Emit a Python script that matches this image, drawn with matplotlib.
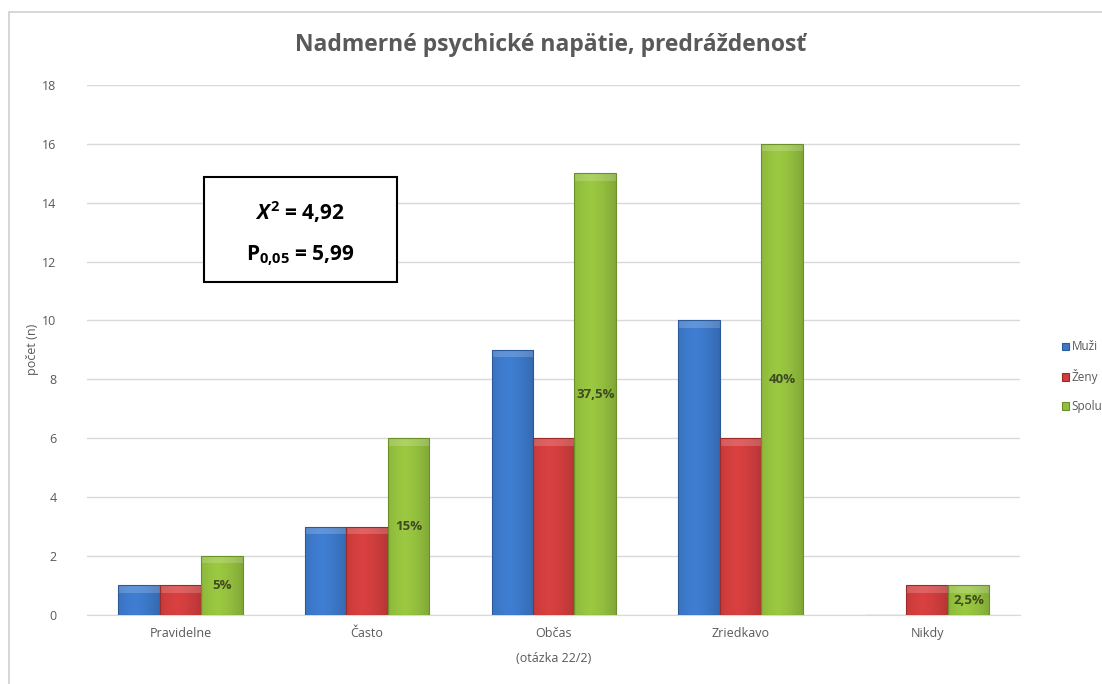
import numpy as np
import matplotlib
matplotlib.use("Agg")
import matplotlib.pyplot as plt
from matplotlib.patches import Rectangle

plt.rcParams['font.family'] = ['Open Sans', 'DejaVu Sans']
plt.rcParams['mathtext.fontset'] = 'custom'
plt.rcParams['mathtext.rm'] = 'Open Sans'
plt.rcParams['mathtext.it'] = 'Open Sans:italic:bold'
plt.rcParams['mathtext.bf'] = 'Open Sans:bold'

# data
categories = ["Pravidelne", "Často", "Občas", "Zriedkavo", "Nikdy"]
muzi = [1, 3, 9, 10, 0]
zeny = [1, 3, 6, 6, 1]
spolu = [2, 6, 15, 16, 1]
spolu_pct = ["5%", "15%", "37,5%", "40%", "2,5%"]
series_names = ["Muži", "Ženy", "Spolu"]
colors = ["#3c78c8", "#cf3d3d", "#93bf3e"]
edges = ["#2a5a99", "#9c2a2a", "#6c8f2a"]

fig = plt.figure(figsize=(11.02, 6.84), dpi=100)
# outer chart frame
fig.patches.append(Rectangle((9 / 1102, -0.01), 1.1, 1 - 12 / 684 + 0.01, transform=fig.transFigure,
                             fill=False, edgecolor="#d0d0d0", linewidth=1.2))

ax = fig.add_axes([0.079, 0.101, 0.847, 0.775])
x = np.arange(len(categories))
w = 0.222


def shade_bars(bars, base):
    c = np.array(matplotlib.colors.to_rgb(base))
    t = np.linspace(0, 1, 64)
    prof = 1 - 0.35 * np.abs(t - 0.4) ** 1.5
    img = np.clip(c[None, :] * prof[:, None] * 1.05, 0, 1)[None, :, :]
    for b in bars:
        if b.get_height() <= 0:
            continue
        x0, y0 = b.get_x(), b.get_y()
        im = ax.imshow(img, extent=[x0, x0 + b.get_width(), y0, y0 + b.get_height()],
                       aspect="auto", zorder=3, interpolation="bilinear")
        im.set_clip_path(b)
        # lighter cap on top
        cap = min(0.25, b.get_height() * 0.3)
        ax.add_patch(Rectangle((x0, y0 + b.get_height() - cap), b.get_width(), cap,
                               facecolor="white", alpha=0.18, edgecolor="none", zorder=4,
                               clip_path=b))


for i, (vals, col, ec, name) in enumerate(zip([muzi, zeny, spolu], colors, edges, series_names)):
    bars = ax.bar(x + (i - 1) * w, vals, width=w, color=col, edgecolor=ec, linewidth=0.8,
                  label=name, zorder=2)
    shade_bars(bars, col)
    for b in bars:
        b.set_zorder(5)
        b.set_facecolor("none")
    if name == "Spolu":
        for b, lab in zip(bars, spolu_pct):
            ax.text(b.get_x() + b.get_width() / 2, b.get_height() / 2, lab, ha="center",
                    va="center", fontsize=9.5, fontweight="bold", color="#3e4a22", zorder=6)

ax.set_ylim(0, 18)
ax.set_xlim(-0.5, 4.5)
ax.set_yticks(np.arange(0, 19, 2))
ax.set_xticks(x)
ax.set_xticklabels(categories)
ax.tick_params(axis="both", length=0, labelsize=9, labelcolor="#595959", pad=9)
ax.tick_params(axis="y", pad=22)
ax.grid(axis="y", color="#d9d9d9", linewidth=1, zorder=0)
for s in ["top", "right", "left"]:
    ax.spines[s].set_visible(False)
ax.spines["bottom"].set_color("#d9d9d9")
ax.set_ylabel("počet (n)", fontsize=9, color="#595959", labelpad=2)
ax.set_xlabel("(otázka 22/2)", fontsize=9, color="#595959", labelpad=8)

fig.text(0.5, 1 - 45 / 684, "Nadmerné psychické napätie, predráždenosť", ha="center",
         va="center", fontsize=16.5, fontweight="bold", color="#595959")

# stats box
box = Rectangle((204 / 1102, 1 - 282 / 684), 193 / 1102, 105 / 684, transform=fig.transFigure,
                facecolor="white", edgecolor="black", linewidth=1.5, zorder=10)
fig.patches.append(box)
fig.text(300 / 1102, 1 - 212 / 684, r"$X^{\mathbf{2}}$ = 4,92", ha="center",
         va="center", fontsize=15, fontweight="bold", color="black", zorder=11)
fig.text(300 / 1102, 1 - 256 / 684, r"P$_{\mathbf{0{,}05}}$ = 5,99", ha="center", va="center",
         fontsize=15, fontweight="bold", color="black", zorder=11)

leg = ax.legend(loc="center left", bbox_to_anchor=(1.044, 0.449), frameon=False, fontsize=8.5,
                handlelength=0.6, handleheight=0.6, handletextpad=0.25, labelspacing=1.35,
                labelcolor="#595959", borderaxespad=0, borderpad=0)
for h, c in zip(leg.legend_handles, colors):
    h.set_facecolor(c)

fig.savefig("out.png", dpi=100)
